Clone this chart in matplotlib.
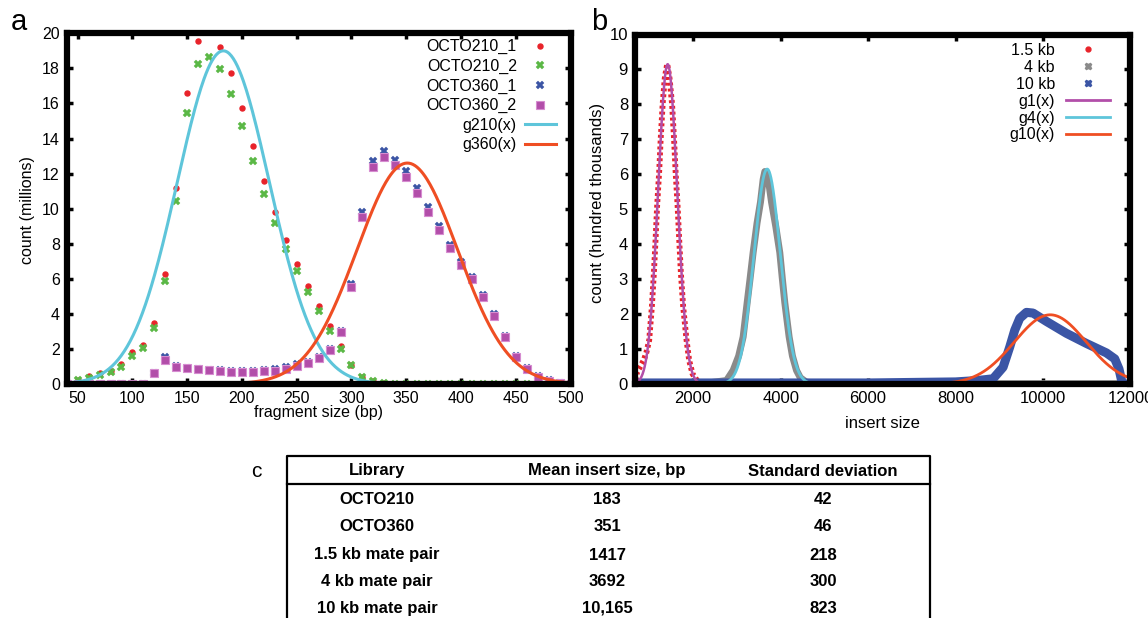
import numpy as np
import matplotlib.pyplot as plt
from matplotlib.lines import Line2D

plt.rcParams['font.family'] = ['Liberation Sans', 'DejaVu Sans']

# fragment-size bins (bp) for the paired-end libraries
frag_bp = list(range(40, 510, 10))

# counts in millions
octo210_1 = [0.1, 0.25, 0.45, 0.6, 0.75, 1.15, 1.81, 2.23, 3.47, 6.29,
             11.18, 16.57, 19.56, 20.06, 19.2, 17.75, 15.75, 13.58, 11.56, 9.79,
             8.23, 6.82, 5.58, 4.44, 3.28, 2.15, 1.09, 0.42, 0.19, 0.06,
             0.02, 0.01, 0.01, 0.01, 0.01, 0.01, 0.01, 0.01, 0.01, 0.01,
             0.01, 0.01, 0.01, 0.01, 0.01, 0.01, 0.01]
octo210_2 = [0.05, 0.2, 0.35, 0.53, 0.67, 0.99, 1.62, 2.04, 3.18, 5.85,
             10.42, 15.43, 18.25, 18.67, 17.94, 16.53, 14.7, 12.69, 10.86, 9.18,
             7.71, 6.42, 5.24, 4.15, 3.05, 2.0, 1.09, 0.42, 0.19, 0.05,
             0.02, 0.02, 0.02, 0.02, 0.02, 0.02, 0.02, 0.02, 0.02, 0.02,
             0.02, 0.02, 0.02, 0.02, 0.02, 0.02, 0.02]
octo360_1 = [0.02, 0.02, 0.02, 0.02, 0.02, 0.02, 0.02, 0.02, 0.65, 1.56,
             1.0, 0.93, 0.87, 0.82, 0.77, 0.73, 0.72, 0.74, 0.78, 0.88,
             0.95, 1.14, 1.25, 1.55, 2.02, 3.05, 5.71, 9.79, 12.7, 13.3,
             12.8, 12.13, 11.18, 10.1, 8.99, 7.94, 6.95, 6.1, 5.1, 3.98,
             2.75, 1.62, 0.9, 0.45, 0.21, 0.06, 0.02]
octo360_2 = [0.0, 0.0, 0.0, 0.0, 0.0, 0.0, 0.0, 0.0, 0.6, 1.39,
             0.95, 0.9, 0.84, 0.8, 0.74, 0.7, 0.69, 0.7, 0.72, 0.76,
             0.84, 1.05, 1.18, 1.47, 1.94, 2.95, 5.56, 9.52, 12.38, 12.95,
             12.48, 11.81, 10.9, 9.81, 8.76, 7.77, 6.8, 6.0, 4.99, 3.9,
             2.67, 1.56, 0.86, 0.42, 0.19, 0.04, 0.0]

# mate-pair insert size histograms (hundred thousands)
mp15_x = [680, 720, 800, 870, 930, 994, 1056, 1102, 1141, 1177, 1223, 1257, 1302,
          1350, 1406, 1460, 1518, 1563, 1598, 1643, 1680, 1719, 1771, 1849, 1909,
          1986, 2114, 2400, 2700]
mp15_y = [0.12, 0.35, 0.52, 0.68, 0.9, 1.25, 2.22, 3.18, 4.15, 5.12, 6.08, 7.0, 8.0,
          8.75, 9.16, 8.75, 8.0, 7.0, 6.08, 5.12, 4.15, 3.18, 2.22, 1.25, 0.67,
          0.29, 0.05, 0.02, 0.02]
mp4_x = [2000, 2400, 2763, 2914, 3040, 3143, 3234, 3300, 3371, 3460, 3540, 3600,
         3639, 3680, 3730, 3791, 3890, 3981, 4040, 4096, 4194, 4270, 4363, 4450,
         4591, 5000, 8000, 12000]
mp4_y = [0.02, 0.04, 0.1, 0.39, 0.8, 1.35, 2.32, 3.0, 3.76, 4.6, 5.21, 5.85,
         6.08, 6.05, 5.75, 5.21, 4.5, 3.76, 3.0, 2.32, 1.35, 0.8, 0.39, 0.18,
         0.05, 0.02, 0.01, 0.01]
mp10_x = [670, 6000, 8000, 8500, 8857, 9086, 9239, 9353, 9467, 9620, 9771, 10078,
          10535, 10992, 11449, 11640, 11737, 11814, 12000]
mp10_y = [0.03, 0.03, 0.06, 0.1, 0.15, 0.48, 1.06, 1.54, 1.88, 2.05, 2.03, 1.79,
          1.45, 1.16, 0.89, 0.72, 0.43, 0.0, 0.0]

# summary table
libraries = ['OCTO210', 'OCTO360', '1.5 kb mate pair', '4 kb mate pair', '10 kb mate pair']
mean_insert = [183, 351, 1417, 3692, 10165]
sd_insert = [42, 46, 218, 300, 823]
# fitted peak heights of the gaussians (same units as each panel)
peak_height = [19.0, 12.6, 9.15, 6.15, 1.98]

RED = '#e8232a'
GREEN = '#5bb846'
BLUE = '#3b55a5'
PURPLE = '#b24ea9'
CYAN = '#5ec5da'
ORANGE = '#ef4e23'
GRAY = '#8a8a8a'


def gauss(x, i):
    return peak_height[i] * np.exp(-(x - mean_insert[i]) ** 2 / (2.0 * sd_insert[i] ** 2))


def style_axes(ax, fs):
    for s in ax.spines.values():
        s.set_linewidth(4.5)
        s.set_zorder(10)
    ax.tick_params(direction='in', length=4, width=2.5, top=True, right=True,
                   labelsize=fs, pad=5)


fig = plt.figure(figsize=(11.48, 6.18), dpi=100)
W, H = 1148.0, 618.0

# ---- a: short-insert libraries ----
ax = fig.add_axes([66.7 / W, 1 - 384 / H, 503.8 / W, 350.7 / H])
ax.plot(frag_bp, octo210_1, ls='none', marker='o', ms=3.6, color=RED, mec=RED, label='OCTO210_1')
ax.plot(frag_bp, octo210_2, ls='none', marker='X', ms=5.5, color=GREEN, mec=GREEN, mew=0.3, label='OCTO210_2')
ax.plot(frag_bp, octo360_1, ls='none', marker='X', ms=5.5, color=BLUE, mec=BLUE, mew=0.3, label='OCTO360_1')
ax.plot(frag_bp, octo360_2, ls='none', marker='s', ms=5.6, color=PURPLE, mec='#d68cd0', mew=0.8, label='OCTO360_2')
xa = np.linspace(40, 500, 500)
ax.plot(xa, gauss(xa, 0), color=CYAN, lw=2.2, label='g210(x)')
ax.plot(xa, gauss(xa, 1), color=ORANGE, lw=2.2, label='g360(x)')
ax.set_xlim(40, 500)
ax.set_ylim(0, 20)
ax.set_xticks(range(50, 501, 50))
ax.set_yticks(range(0, 21, 2))
style_axes(ax, 11.5)
ax.set_xlabel('fragment size (bp)', fontsize=11.5, va='center')
ax.xaxis.set_label_coords(0.5, -0.082)
ax.set_ylabel('count (millions)', fontsize=11.5, va='center')
ax.yaxis.set_label_coords(-0.078, 0.496)
ax.legend(loc='upper right', bbox_to_anchor=(0.971, 0.983), frameon=False,
          markerfirst=False, fontsize=11.5, handlelength=1.95, handletextpad=0.5,
          labelspacing=0.28, borderpad=0, borderaxespad=0)

# ---- b: mate-pair libraries ----
bx = fig.add_axes([635 / W, 1 - 384 / H, 495.5 / W, 349.5 / H])
bx.plot(mp15_x, mp15_y, color=RED, lw=4.2, ls=(0, (0.5, 0.5)), zorder=2)
bx.plot(mp4_x, mp4_y, color=GRAY, lw=5, zorder=2)
bx.plot(mp10_x, mp10_y, color=BLUE, lw=6.5, zorder=3)
xb = np.linspace(670, 12000, 3000)
bx.plot(xb, gauss(xb, 2), color=PURPLE, lw=1.8, zorder=4)
bx.plot(xb, gauss(xb, 3), color=CYAN, lw=2.0, zorder=4)
bx.plot(xb, gauss(xb, 4), color=ORANGE, lw=2.0, zorder=4)
bx.set_xlim(670, 12000)
bx.set_ylim(0, 10)
bx.set_xticks(range(2000, 12001, 2000))
bx.set_yticks(range(0, 11))
style_axes(bx, 12)
bx.set_xlabel('insert size', fontsize=12, va='center')
bx.xaxis.set_label_coords(0.5, -0.114)
bx.set_ylabel('count (hundred thousands)', fontsize=12, va='center')
bx.yaxis.set_label_coords(-0.075, 0.518)
handles = [
    Line2D([], [], ls='none', marker='o', ms=3.5, color=RED),
    Line2D([], [], ls='none', marker='X', ms=5, color=GRAY),
    Line2D([], [], ls='none', marker='X', ms=5, color=BLUE),
    Line2D([], [], color=PURPLE, lw=2),
    Line2D([], [], color=CYAN, lw=2),
    Line2D([], [], color=ORANGE, lw=2),
]
bx.legend(handles, ['1.5 kb', '4 kb', '10 kb', 'g1(x)', 'g4(x)', 'g10(x)'],
          loc='upper right', bbox_to_anchor=(0.9586, 0.976), frameon=False,
          markerfirst=False, fontsize=11.5, handlelength=2.75, handletextpad=0.7,
          labelspacing=0.12, borderpad=0, borderaxespad=0)

# panel letters
fig.text(18.5 / W, 1 - 22 / H, 'a', fontsize=21, ha='center', va='center')
fig.text(599 / W, 1 - 22 / H, 'b', fontsize=21, ha='center', va='center')

# ---- c: summary table ----
cx = fig.add_axes([0, 0, 1, 1])
cx.set_xlim(0, W)
cx.set_ylim(H, 0)
cx.axis('off')
cx.text(256, 471.5, 'c', fontsize=15, ha='center', va='center')
tbl_left, tbl_right, tbl_top, tbl_head = 287, 930, 456, 483.5
cx.plot([tbl_left, tbl_left, tbl_right, tbl_right], [640, tbl_top, tbl_top, 640],
        color='black', lw=1.6, clip_on=False)
cx.plot([tbl_left, tbl_right], [tbl_head, tbl_head], color='black', lw=1.6)
col_x = [377, 607, 823]
tfont = dict(family=['Liberation Sans Narrow', 'Liberation Sans'], fontweight='bold',
             fontsize=12, ha='center', va='center')
for cx_i, head in zip(col_x, ['Library', 'Mean insert size, bp', 'Standard deviation']):
    cx.text(cx_i, 471, head, **tfont)
row_y = [499.3, 526.7, 555, 581.7, 608.3]
for ry, lib, m, s in zip(row_y, libraries, mean_insert, sd_insert):
    m_txt = f'{m:,}' if m >= 10000 else str(m)
    cx.text(col_x[0], ry, lib, **tfont)
    cx.text(col_x[1], ry, m_txt, **tfont)
    cx.text(col_x[2], ry, str(s), **tfont)

fig.savefig('out.png', dpi=100)
